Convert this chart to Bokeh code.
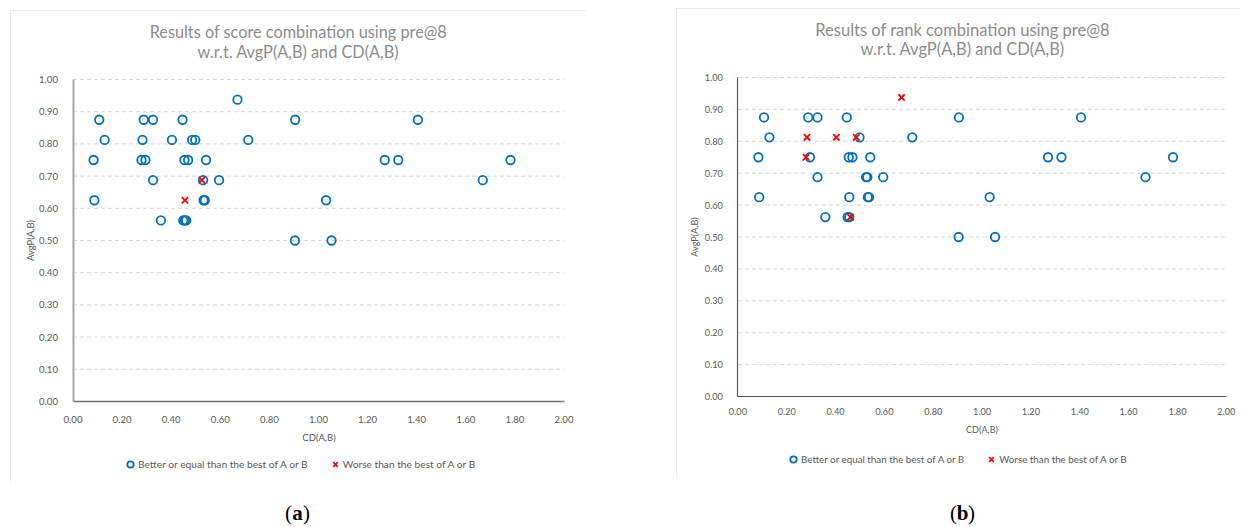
from bokeh.plotting import figure
from bokeh.models import (Range1d, SingleIntervalTicker, NumeralTickFormatter,
                          Legend, LegendItem, Label)
from bokeh.layouts import row, column
from bokeh.core.properties import value
from bokeh.embed import file_html
from bokeh.resources import INLINE

# Pairs of (CD(A,B), AvgP(A,B)) shared by both combination methods
cd = [0.670,
      0.107, 0.288, 0.326, 0.446, 0.905, 1.405,
      0.129, 0.283, 0.403, 0.485, 0.498, 0.714,
      0.084, 0.279, 0.295, 0.454, 0.469, 0.542, 1.270, 1.325, 1.782,
      0.326, 0.525, 0.530, 0.595, 1.669,
      0.087, 0.456, 0.532, 0.537, 1.031,
      0.358, 0.449, 0.456, 0.461,
      0.904, 1.053]
avgp = [0.9375,
        0.875, 0.875, 0.875, 0.875, 0.875, 0.875,
        0.8125, 0.8125, 0.8125, 0.8125, 0.8125, 0.8125,
        0.75, 0.75, 0.75, 0.75, 0.75, 0.75, 0.75, 0.75, 0.75,
        0.6875, 0.6875, 0.6875, 0.6875, 0.6875,
        0.625, 0.625, 0.625, 0.625, 0.625,
        0.5625, 0.5625, 0.5625, 0.5625,
        0.5, 0.5]
# 1 = worse than the best of A or B, 0 = better or equal
score_worse = [0,
               0, 0, 0, 0, 0, 0,
               0, 0, 0, 0, 0, 0,
               0, 0, 0, 0, 0, 0, 0, 0, 0,
               0, 1, 0, 0, 0,
               0, 1, 0, 0, 0,
               0, 0, 0, 0,
               0, 0]
rank_worse = [1,
              0, 0, 0, 0, 0, 0,
              0, 1, 1, 1, 0, 0,
              0, 1, 0, 0, 0, 0, 0, 0, 0,
              0, 0, 0, 0, 0,
              0, 0, 0, 0, 0,
              0, 0, 0, 1,
              0, 0]

cd_bounds = (0.0, 2.0)
avgp_bounds = (0.0, 1.0)
avgp_grid = [0.1, 0.2, 0.3, 0.4, 0.5, 0.6, 0.7, 0.8, 0.9, 1.0]

titles_score = ["Results of score combination using pre@8", "w.r.t. AvgP(A,B) and CD(A,B)"]
titles_rank = ["Results of rank combination using pre@8", "w.r.t. AvgP(A,B) and CD(A,B)"]
legend_labels = ["Better or equal than the best of A or B", "Worse than the best of A or B"]
x_label = "CD(A,B)"
y_label = "AvgP(A,B)"

BLUE = "#0070C0"
RED = "#FF0000"
GREY_TXT = "#595959"
FONT = "Lato"


def make_panel(title_lines, worse, g):
    """g holds the pixel geometry of one chart box (canvas coordinates)."""
    W, H = g["size"]
    x0_px, x_unit = g["x0"], g["xpx"]     # canvas column of CD=0, pixels per unit
    y0_px, y_unit = g["y0"], g["ypx"]     # canvas row of AvgP=0, pixels per unit
    x_range = Range1d(-x0_px / x_unit, (W - x0_px) / x_unit)
    y_range = Range1d((y0_px - H) / y_unit, y0_px / y_unit)
    fs = g["fs"]

    p = figure(width=W, height=H, output_backend="svg", toolbar_location=None,
               x_range=x_range, y_range=y_range, min_border=0)
    p.title.visible = False
    p.outline_line_color = None
    p.background_fill_color = "white"
    p.border_fill_color = "white"
    p.styles = {"outline": "1px solid #D9D9D9", "outline-offset": "-1px"}

    # axes cross at the origin and only cover the value span
    p.xaxis.ticker = SingleIntervalTicker(interval=0.2)
    p.yaxis.ticker = SingleIntervalTicker(interval=0.1)
    p.xaxis.fixed_location = 0
    p.yaxis.fixed_location = 0
    p.xaxis.bounds = cd_bounds
    p.yaxis.bounds = avgp_bounds
    for ax in (p.xaxis[0], p.yaxis[0]):
        ax.formatter = NumeralTickFormatter(format="0.00")
        ax.major_tick_line_color = None
        ax.minor_tick_line_color = None
        ax.major_label_text_color = GREY_TXT
        ax.major_label_text_font = FONT
        ax.major_label_text_font_size = f"{9.6 * fs:.1f}px"
        ax.axis_label_text_color = GREY_TXT
        ax.axis_label_text_font = FONT
        ax.axis_label_text_font_style = "normal"
        ax.axis_label_text_font_size = f"{9.5 * fs:.1f}px"
    p.xaxis.axis_label = x_label
    p.yaxis.axis_label = y_label
    p.xaxis.major_label_standoff = g["xstand"]
    p.yaxis.major_label_standoff = 9
    p.xaxis.axis_label_standoff = 6
    p.yaxis.axis_label_standoff = 1
    p.xaxis.axis_line_color, p.xaxis.axis_line_width = g["xline"]
    p.yaxis.axis_line_color, p.yaxis.axis_line_width = g["yline"]

    # dashed horizontal gridlines between the axis and CD = 2
    p.xgrid.grid_line_color = None
    p.ygrid.grid_line_color = None
    n = len(avgp_grid)
    p.segment(x0=[cd_bounds[0]] * n, y0=avgp_grid, x1=[cd_bounds[1]] * n, y1=avgp_grid,
              line_color="#D9D9D9", line_dash="4 3", line_width=1, level="underlay")

    bx = [x for x, w in zip(cd, worse) if not w]
    by = [y for y, w in zip(avgp, worse) if not w]
    wx = [x for x, w in zip(cd, worse) if w]
    wy = [y for y, w in zip(avgp, worse) if w]
    r_better = p.scatter(bx, by, marker="circle", size=8.5, fill_color=None,
                         line_color=BLUE, line_width=1.8)
    r_worse = p.scatter(wx, wy, marker="x", size=9, line_color=RED, line_width=1.8)

    # two centred title lines above the plotting area
    for txt, ty in zip(title_lines, g["title_y"]):
        p.add_layout(Label(x=g["title_x"], y=ty, text=txt, text_align="center",
                           text_baseline="middle", text_color="#8C8C8C",
                           text_font=FONT, text_font_size=f"{g['title_fs']:.1f}px"))

    legend = Legend(items=[LegendItem(label=legend_labels[0], renderers=[r_better]),
                           LegendItem(label=legend_labels[1], renderers=[r_worse])],
                    orientation="horizontal", location=(g["legend_x"], 10),
                    glyph_width=16, glyph_height=16, label_standoff=0, spacing=19,
                    padding=0, margin=0, border_line_color=None,
                    background_fill_alpha=0, label_text_font=FONT,
                    label_text_font_size=f"{g['legend_fs']:.1f}px",
                    label_text_color=GREY_TXT, label_height=16)
    p.add_layout(legend)
    return p


def make_caption(letter, width, height, cx, cy):
    c = figure(width=width, height=height, output_backend="svg", toolbar_location=None,
               x_range=Range1d(0, width), y_range=Range1d(0, height),
               x_axis_type=None, y_axis_type=None, min_border=0)
    c.outline_line_color = None
    c.xgrid.grid_line_color = None
    c.ygrid.grid_line_color = None
    serif = value("Liberation Serif")
    c.text(x=[cx - 5.5], y=[cy], text=["("], text_align="right", text_baseline="middle",
           text_font=serif, text_font_size="21px", text_color="black")
    c.text(x=[cx], y=[cy], text=[letter], text_align="center", text_baseline="middle",
           text_font=serif, text_font_size="21px", text_font_style="bold", text_color="black")
    c.text(x=[cx + 5.5], y=[cy], text=[")"], text_align="left", text_baseline="middle",
           text_font=serif, text_font_size="21px", text_color="black")
    return c


geom_a = dict(size=(576, 472), x0=62.5, xpx=245.5, y0=391, ypx=322, fs=1.0,
              xstand=8, xline=("#767676", 1.5), yline=("#A6A6A6", 2),
              title_x=0.918, title_y=(1.149, 1.087), title_fs=16.3,
              legend_x=112, legend_fs=10.2)
geom_b = dict(size=(564, 469), x0=61.4, xpx=244.2, y0=388, ypx=319, fs=0.96,
              xstand=5, xline=("#595959", 1.2), yline=("#595959", 1.2),
              title_x=0.92, title_y=(1.150, 1.088), title_fs=16.5,
              legend_x=109, legend_fs=9.8)

pa = make_panel(titles_score, score_worse, geom_a)
pb = make_panel(titles_rank, rank_worse, geom_b)
ca = make_caption("a", 576, 45, 287, 15)
cb = make_caption("b", 564, 50, 286, 15)

pa.margin = (10, 0, 0, 10)
ca.margin = (0, 0, 0, 10)
pb.margin = (8, 0, 0, 90)
cb.margin = (0, 0, 0, 90)

layout = row(column(pa, ca), column(pb, cb))
layout.width = 1247
layout.height = 527

with open("out.html", "w") as f:
    f.write(file_html(layout, INLINE))
